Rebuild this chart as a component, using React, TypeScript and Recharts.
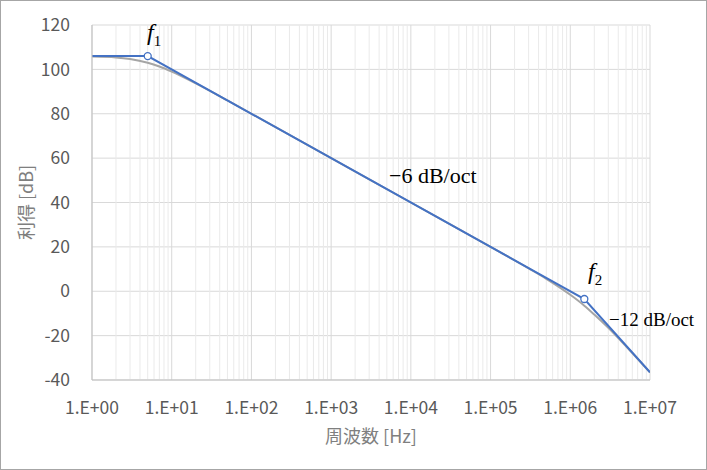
import { LineChart, Line, XAxis, YAxis, CartesianGrid, ReferenceLine } from 'recharts'

// Asymptotic (straight-line) Bode gain: f1 ≈ 5 Hz, f2 ≈ 1.5 MHz
const asymFreq = [1, 5, 1.5e6, 1e7]
const asymGain = [106, 106, -3.5, -36.5]

const realFreq = [1, 2, 3, 5, 7, 10, 20, 50, 100, 1e3, 1e4, 1e5, 3e5, 5e5, 1e6, 1.5e6, 2e6, 3e6, 5e6, 1e7]
const realGain = [105.8, 105.4, 104.7, 103.0, 101.3, 99.0, 93.7, 86.0, 80.0, 60.0, 40.0, 20.0, 10.3, 5.6, -1.6, -6.5, -10.5, -16.5, -24.8, -36.6]

const xTicks = [1, 10, 100, 1e3, 1e4, 1e5, 1e6, 1e7]
const yTicks = [-40, -20, 0, 20, 40, 60, 80, 100, 120]

const asymData = asymFreq.map((f, i) => ({ f, db: asymGain[i] }))
const realData = realFreq.map((f, i) => ({ f, db: realGain[i] }))

// minor log gridlines (2..9 per decade)
const minorTicks: number[] = []
for (let d = 0; d < 7; d++) {
  for (let m = 2; m <= 9; m++) minorTicks.push(m * Math.pow(10, d))
}

const BLUE = '#4472c4'
const GREY = '#a5a5a5'
const AXIS_FONT = '"Noto Sans CJK JP", "Noto Sans", sans-serif'
const SERIF = '"Liberation Serif", "Times New Roman", serif'

function expLabel(v: number) {
  const e = Math.round(Math.log10(v))
  return `1.E+${String(e).padStart(2, '0')}`
}

function BreakDot(props: any) {
  const { cx, cy, index } = props
  if (index !== 1 && index !== 2) return <g key={index} />
  return <circle key={index} cx={cx} cy={cy} r={3.5} fill="#fff" stroke={BLUE} strokeWidth={1.3} />
}

export default function App() {
  const tick = { fontSize: 17.5, fill: '#595959', fontFamily: AXIS_FONT }
  const title = { fontSize: 18, fill: '#7f7f7f', fontFamily: AXIS_FONT }
  return (
    <div
      style={{
        position: 'absolute',
        left: 0,
        top: 0,
        width: 707,
        height: 470,
        boxSizing: 'border-box',
        border: '1px solid #a6a6a6',
        background: '#fff',
      }}
    >
      <LineChart width={705} height={468} margin={{ top: 24, right: 56, left: 11, bottom: 29 }}>
        {minorTicks.map((v) => (
          <ReferenceLine key={v} x={v} stroke="#eaeaea" strokeWidth={1} />
        ))}
        <CartesianGrid stroke="#d9d9d9" />
        <XAxis
          dataKey="f"
          type="number"
          scale="log"
          domain={[1, 1e7]}
          ticks={xTicks}
          tickFormatter={expLabel}
          allowDataOverflow
          tick={tick}
          tickLine={false}
          axisLine={{ stroke: '#bfbfbf' }}
          tickMargin={16}
          height={60}
          label={{ value: '周波数 [Hz]', position: 'insideBottom', offset: -3, style: title }}
        />
        <YAxis
          type="number"
          domain={[-40, 120]}
          ticks={yTicks}
          tick={tick}
          tickLine={false}
          axisLine={{ stroke: '#bfbfbf' }}
          tickMargin={16}
          width={80}
          label={{ value: '利得 [dB]', angle: -90, position: 'insideLeft', offset: 15, style: { ...title, textAnchor: 'middle' } }}
        />
        <Line
          data={realData}
          dataKey="db"
          type="monotone"
          stroke={GREY}
          strokeWidth={2}
          dot={false}
          isAnimationActive={false}
        />
        <Line
          data={asymData}
          dataKey="db"
          type="linear"
          stroke={BLUE}
          strokeWidth={2}
          dot={<BreakDot />}
          activeDot={false}
          isAnimationActive={false}
        />
      </LineChart>

      {/* annotations */}
      <div style={{ position: 'absolute', left: 146, top: 19, fontFamily: SERIF, fontSize: 24, fontStyle: 'italic', color: '#000', lineHeight: 1 }}>
        f<sub style={{ fontStyle: 'normal', fontSize: 15 }}>1</sub>
      </div>
      <div style={{ position: 'absolute', left: 388, top: 164, fontFamily: SERIF, fontSize: 22, color: '#000', lineHeight: 1 }}>
        −6 dB/oct
      </div>
      <div style={{ position: 'absolute', left: 587, top: 258, fontFamily: SERIF, fontSize: 24, fontStyle: 'italic', color: '#000', lineHeight: 1 }}>
        f<sub style={{ fontStyle: 'normal', fontSize: 15 }}>2</sub>
      </div>
      <div style={{ position: 'absolute', left: 608, top: 309, fontFamily: SERIF, fontSize: 19, color: '#000', lineHeight: 1 }}>
        −12 dB/oct
      </div>
    </div>
  )
}
